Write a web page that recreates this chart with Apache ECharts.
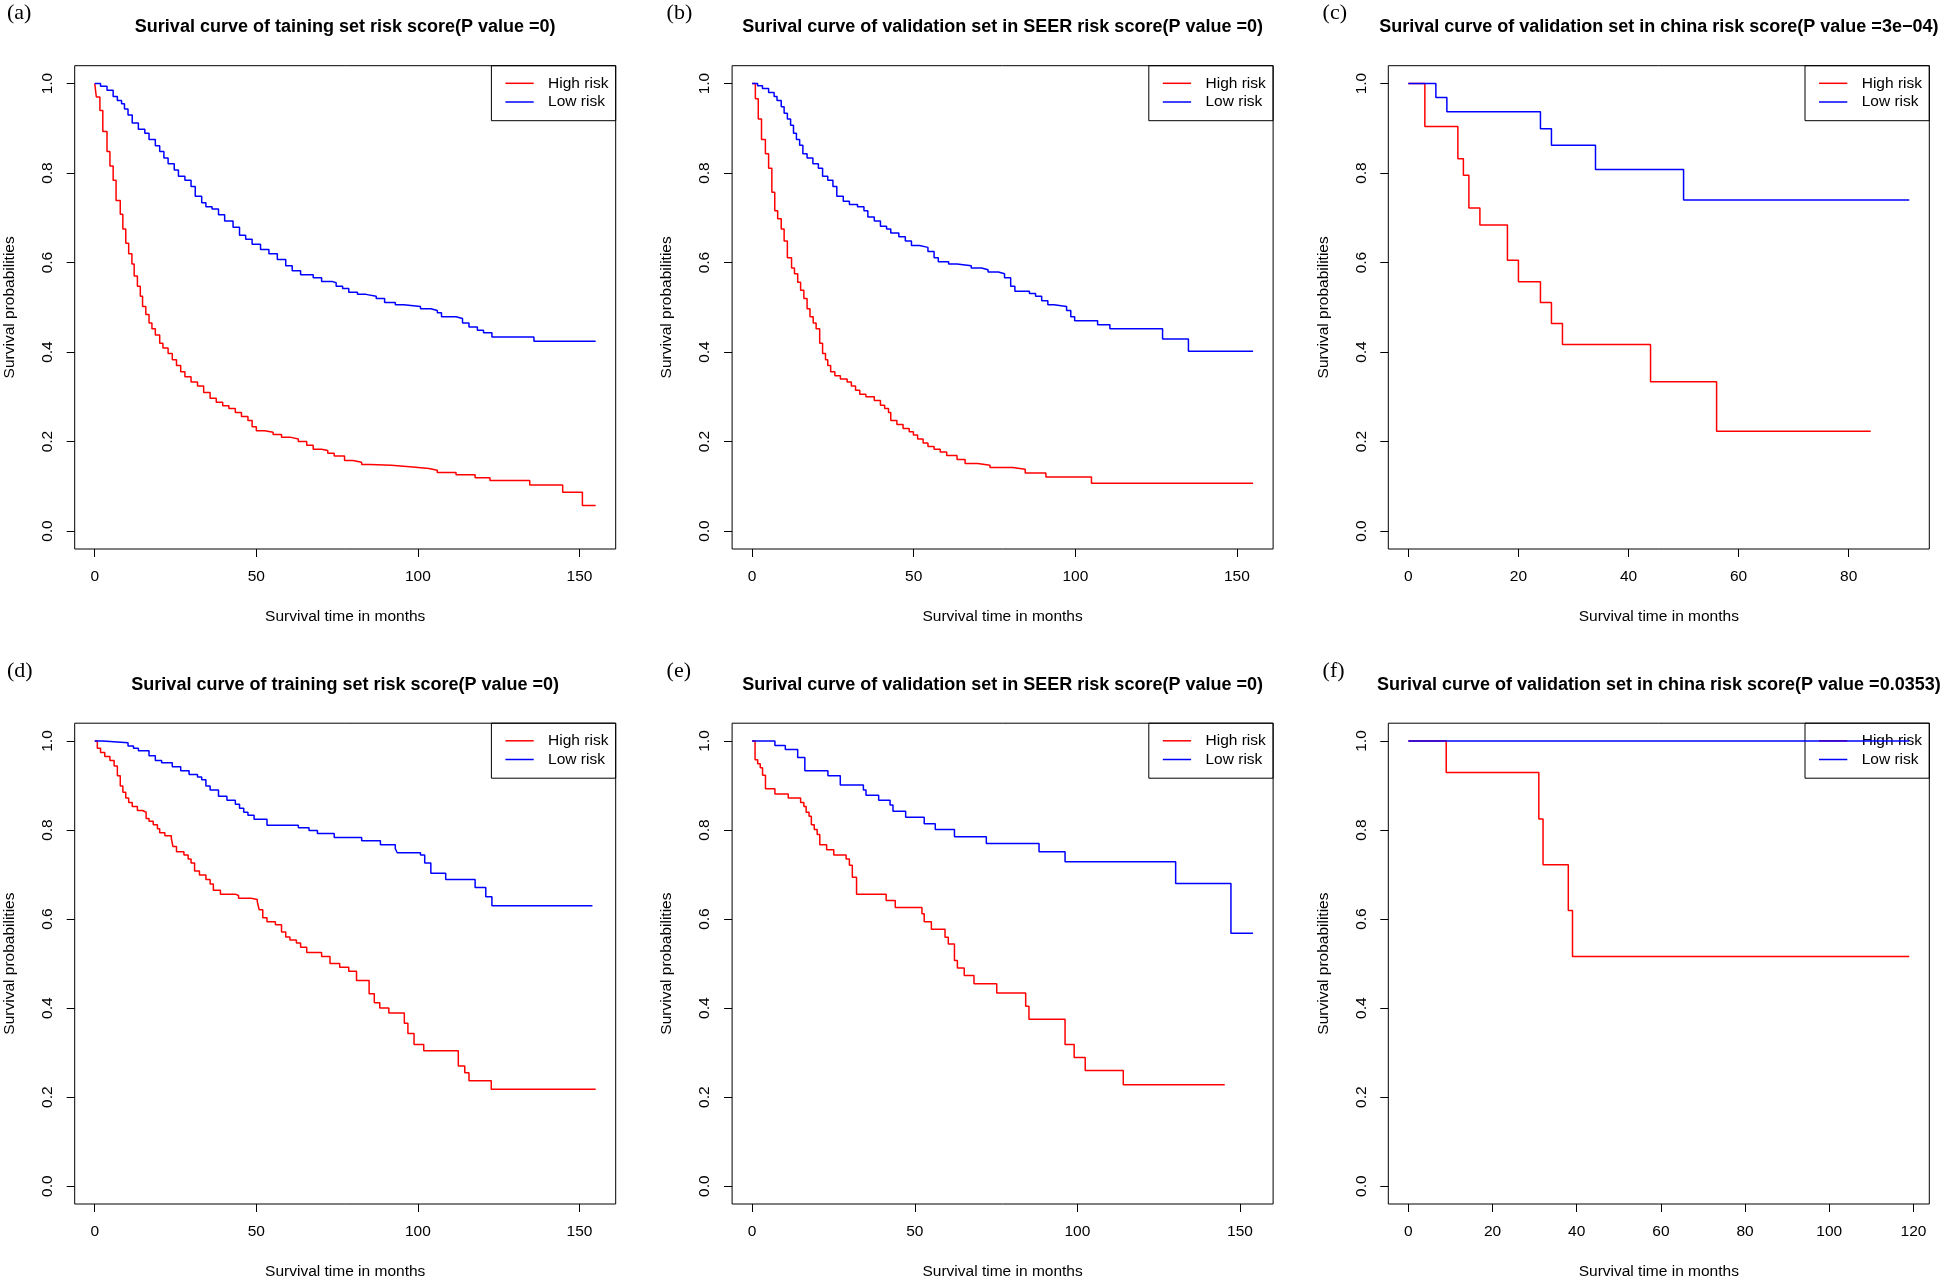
<!DOCTYPE html>
<html><head><meta charset="utf-8">
<script src="https://cdn.jsdelivr.net/npm/echarts@6/dist/echarts.min.js"></script>
<style>html,body{margin:0;padding:0;background:#fff}#c{width:1946px;height:1281px}</style>
</head><body><div id="c"></div>
<script>
// ---------- data ----------
const panelLabels = ['(a)', '(b)', '(c)', '(d)', '(e)', '(f)'];
const panelTitles = [
  'Surival curve of taining set risk score(P value =0)',
  'Surival curve of validation set in SEER risk score(P value =0)',
  'Surival curve of validation set in china risk score(P value =3e\u221204)',
  'Surival curve of training set risk score(P value =0)',
  'Surival curve of validation set in SEER risk score(P value =0)',
  'Surival curve of validation set in china risk score(P value =0.0353)'
];
const seriesNames = ['High risk', 'Low risk'];
const xAxisTitle = 'Survival time in months';
const yAxisTitle = 'Survival probabilities';
const xTicks150 = [0, 50, 100, 150];
const xTicks80 = [0, 20, 40, 60, 80];
const xTicks120 = [0, 20, 40, 60, 80, 100, 120];
const yTicks = [0, 0.2, 0.4, 0.6, 0.8, 1.0];
const xDataMax = [155, 155, 91, 155, 154, 119];

// (a) training set
const aHighT = [0,0.5,1.6,2.5,3.8,4.7,5.7,6.6,7.9,8.7,9.6,10.5,11.5,12.2,13.2,14.1,14.8,15.8,16.8,17.7,18.75,20.1,21.1,22.7,24.0,25.3,26.6,27.9,29.8,31.8,33.7,35.7,37.6,39.6,41.5,43.5,45.4,47.4,48.7,50,52.6,55.2,57.8,60.4,63,65.6,67.6,70.2,72.1,74.1,77.3,79.9,82.6,85.2,91.7,97.5,103.4,106,111.8,117.7,122.3,134.6,144.8,150.9,155];
const aHighS = [1,0.97,0.94,0.893,0.848,0.816,0.784,0.739,0.708,0.675,0.643,0.62,0.597,0.57,0.547,0.525,0.502,0.484,0.465,0.452,0.438,0.42,0.409,0.397,0.383,0.37,0.356,0.345,0.333,0.324,0.31,0.297,0.288,0.28,0.274,0.265,0.256,0.247,0.233,0.224,0.221,0.216,0.21,0.206,0.2,0.192,0.183,0.18,0.174,0.168,0.158,0.154,0.149,0.147,0.144,0.14,0.136,0.131,0.126,0.119,0.113,0.103,0.087,0.057,0.057];
const aLowT = [0,1.8,3.8,5.7,7.0,8.3,9.2,10.3,11.6,13.5,15.5,16.8,18.75,20.1,21.4,22.7,24.6,25.9,27.9,29.8,31.1,33.1,34.4,36.3,38.3,40.2,42.8,44.8,46.7,48.7,51.3,53.9,56.5,59.1,61.1,63.7,67.6,70.2,73.4,74.7,76.7,78.6,81.3,83.9,87.1,89.7,93.0,95.6,100.8,104.0,106.0,107.3,111.8,113.8,115.8,118.4,120.3,122.9,135.9,155];
const aLowS = [1,0.994,0.985,0.971,0.962,0.955,0.943,0.93,0.912,0.898,0.889,0.875,0.861,0.848,0.834,0.821,0.807,0.793,0.784,0.77,0.748,0.734,0.725,0.72,0.707,0.693,0.679,0.661,0.652,0.641,0.629,0.62,0.607,0.593,0.582,0.573,0.566,0.558,0.555,0.547,0.542,0.534,0.529,0.525,0.52,0.511,0.506,0.502,0.497,0.493,0.488,0.479,0.475,0.465,0.456,0.449,0.443,0.434,0.424,0.424];

// (b) validation SEER
const bHighT = [0,1.0,1.9,2.9,4.1,5.1,6.1,7.0,7.9,9.0,9.9,10.9,12.2,13.1,14.1,15.0,16.0,17.0,17.9,18.9,19.8,20.9,21.8,22.7,23.4,24.3,25.6,27.3,29.4,30.7,32.0,33.3,35.2,37.8,39.7,41.0,42.2,42.9,44.8,46.7,48.6,49.9,51.2,52.9,54.4,56.3,58.2,60.2,63.4,65.9,69.8,73.6,80.6,84.5,90.9,105.0,155];
const bHighS = [1,0.966,0.921,0.875,0.843,0.811,0.757,0.716,0.698,0.675,0.648,0.611,0.588,0.575,0.556,0.538,0.52,0.497,0.479,0.465,0.452,0.42,0.397,0.383,0.37,0.356,0.347,0.34,0.333,0.324,0.315,0.306,0.3,0.292,0.281,0.274,0.265,0.247,0.238,0.229,0.222,0.215,0.206,0.197,0.189,0.183,0.177,0.169,0.16,0.151,0.147,0.142,0.138,0.13,0.121,0.107,0.107];
const bLowT = [0,1.7,3.2,5.1,6.8,7.7,9.0,9.9,10.9,11.9,12.8,13.7,14.7,15.7,17.0,18.8,20.5,21.8,23.4,25.0,26.2,28.2,30.1,32.6,34.6,35.8,37.8,39.7,41.6,42.9,45.4,47.4,49.3,51.8,54.4,56.3,57.6,60.8,63.4,67.8,71.0,73.0,76.2,78.1,80.0,81.3,85.8,87.7,89.6,91.5,93.4,97.3,98.6,99.8,106.9,110.7,127.0,135.0,155];
const bLowS = [1,0.995,0.989,0.98,0.971,0.962,0.948,0.934,0.921,0.907,0.889,0.875,0.862,0.843,0.834,0.821,0.811,0.793,0.784,0.77,0.748,0.737,0.73,0.725,0.716,0.702,0.693,0.681,0.675,0.666,0.658,0.648,0.638,0.634,0.625,0.611,0.602,0.597,0.593,0.588,0.584,0.579,0.575,0.566,0.547,0.536,0.531,0.525,0.515,0.506,0.502,0.493,0.479,0.47,0.461,0.452,0.429,0.402,0.402];

// (c) validation China
const cHighT = [0,3,9,10,11,13,18,20,24,26,28,44,56,84];
const cHighS = [1,0.904,0.832,0.795,0.722,0.684,0.605,0.557,0.511,0.464,0.417,0.334,0.223,0.223];
const cLowT = [0,5,7,24,26,34,50,91];
const cLowS = [1,0.969,0.937,0.899,0.862,0.808,0.74,0.74];

// (d) training set
const dHighT = [0,0.8,1.8,3.1,4.7,6.0,7.0,7.9,8.7,9.6,10.5,11.6,13.2,14.8,15.9,16.8,18.1,19.4,20.1,21.7,23.7,24.2,25.3,27.6,28.9,29.8,30.9,32.4,34.4,35.7,36.7,38.9,43.5,44.5,48.4,50.3,50.9,52.0,53.3,55.9,57.8,59.1,60.4,62.4,63.7,65.6,70.2,72.8,75.8,78.6,81.0,84.9,86.5,88.2,91.0,95.8,96.9,98.8,101.8,112.5,114.5,115.8,122.7,155];
const dHighS = [1,0.984,0.974,0.965,0.956,0.944,0.922,0.899,0.885,0.872,0.862,0.853,0.844,0.84,0.826,0.82,0.812,0.803,0.794,0.787,0.781,0.763,0.751,0.744,0.735,0.726,0.708,0.699,0.689,0.679,0.665,0.656,0.653,0.647,0.644,0.639,0.621,0.603,0.594,0.587,0.571,0.56,0.553,0.546,0.537,0.525,0.516,0.5,0.492,0.483,0.462,0.432,0.412,0.4,0.389,0.366,0.343,0.318,0.304,0.27,0.255,0.237,0.218,0.218];
const dLowT = [0,2.5,10.3,12.0,13.5,16.8,18.75,20.7,24.0,26.6,29.2,31.8,33.1,34.4,35.7,38.3,40.9,43.5,44.8,46.1,47.4,49.3,53.3,63.0,66.3,68.9,74.1,82.6,88.4,93.0,93.6,100.8,102.1,104.0,108.6,117.7,121.0,122.9,154];
const dLowS = [1,0.996,0.989,0.984,0.978,0.967,0.956,0.951,0.942,0.933,0.925,0.919,0.913,0.899,0.89,0.876,0.867,0.858,0.849,0.84,0.833,0.824,0.811,0.805,0.799,0.792,0.783,0.776,0.767,0.758,0.749,0.744,0.726,0.703,0.689,0.671,0.65,0.63,0.63];

// (e) validation SEER
const eHighT = [0,0.9,1.7,2.5,3.2,4.1,7.0,11.1,14.9,15.9,16.6,17.5,18.2,19.1,20.0,20.8,22.9,25.1,28.9,29.9,30.8,32.1,41.2,44.0,52.2,52.9,55.1,59.3,60.3,62.2,63.1,65.2,68.2,75.2,84.1,85.1,96.2,99.0,102.4,114.1,145.3];
const eHighS = [1,0.958,0.949,0.94,0.923,0.893,0.881,0.872,0.862,0.853,0.84,0.831,0.812,0.801,0.79,0.767,0.756,0.744,0.735,0.721,0.694,0.656,0.642,0.626,0.612,0.594,0.577,0.559,0.544,0.507,0.49,0.473,0.455,0.434,0.404,0.375,0.318,0.289,0.26,0.228,0.228];
const eLowT = [0,7.0,10.2,14.0,16.2,23.3,27.1,34.2,35.0,38.9,42.4,43.3,47.2,52.9,56.3,62.2,72.0,88.2,96.2,130.2,147.2,154];
const eLowS = [1,0.99,0.981,0.963,0.933,0.922,0.901,0.89,0.878,0.867,0.856,0.842,0.829,0.814,0.801,0.785,0.77,0.751,0.729,0.68,0.568,0.568];

// (f) validation China
const fHighT = [0,9,31,32,38,39,119];
const fHighS = [1,0.929,0.825,0.722,0.619,0.516,0.516];
const fLowT = [0,119];
const fLowS = [1,1];

// ---------- layout / style ----------
const FONT = "'Liberation Sans', Arial, Helvetica, sans-serif";
const SERIF = "'Liberation Serif', 'Times New Roman', serif";
const COL_LEFT = [74.7, 732.1, 1388.3];
const LABEL_X = [7, 666.6, 1322.6];
const ROW_TOP = [65.7, 723.2];
const BOX_W = 541, BOX_H = 483.3;
const RED = '#FF0000', BLUE = '#0000FF';

const highT = [aHighT, bHighT, cHighT, dHighT, eHighT, fHighT];
const highS = [aHighS, bHighS, cHighS, dHighS, eHighS, fHighS];
const lowT = [aLowT, bLowT, cLowT, dLowT, eLowT, fLowT];
const lowS = [aLowS, bLowS, cLowS, dLowS, eLowS, fLowS];
const xTicksAll = [xTicks150, xTicks150, xTicks80, xTicks150, xTicks150, xTicks120];

const zip = (t, s) => t.map((v, k) => [v, s[k]]);

const grids = [], xAxes = [], yAxes = [], series = [], graphics = [];
const txt = { color: '#000', fontFamily: FONT, fontSize: 15.5 };

for (let i = 0; i < 6; i++) {
  const col = i % 3, row = Math.floor(i / 3);
  const left = COL_LEFT[col], top = ROW_TOP[row];
  grids.push({ left, top, width: BOX_W, height: BOX_H, show: true, borderColor: '#000', borderWidth: 1, backgroundColor: 'transparent' });
  const xm = xDataMax[i];
  xAxes.push({
    gridIndex: i, type: 'value', position: 'bottom', min: -0.04 * xm, max: 1.04 * xm,
    axisLine: { show: false, onZero: false }, splitLine: { show: false },
    axisTick: { show: true, inside: false, length: 8, customValues: xTicksAll[i], lineStyle: { color: '#000', width: 1 } },
    axisLabel: Object.assign({ customValues: xTicksAll[i], margin: 20, formatter: v => String(v) }, txt),
    name: xAxisTitle, nameLocation: 'middle', nameGap: 60, nameTextStyle: Object.assign({}, txt)
  });
  yAxes.push({
    gridIndex: i, type: 'value', position: 'left', min: -0.04, max: 1.04,
    axisLine: { show: false, onZero: false }, splitLine: { show: false },
    axisTick: { show: true, inside: false, length: 8, customValues: yTicks, lineStyle: { color: '#000', width: 1 } },
    axisLabel: Object.assign({ customValues: yTicks, margin: 19, rotate: 90, formatter: v => v.toFixed(1) }, txt),
    name: yAxisTitle, nameLocation: 'middle', nameGap: 57, nameTextStyle: Object.assign({}, txt)
  });
  series.push({
    type: 'line', name: seriesNames[0], xAxisIndex: i, yAxisIndex: i, step: 'end',
    data: zip(highT[i], highS[i]), showSymbol: false, symbol: 'none',
    lineStyle: { color: RED, width: 1.5 }, itemStyle: { color: RED }, silent: true, z: 3
  });
  series.push({
    type: 'line', name: seriesNames[1], xAxisIndex: i, yAxisIndex: i, step: 'end',
    data: zip(lowT[i], lowS[i]), showSymbol: false, symbol: 'none',
    lineStyle: { color: BLUE, width: 1.5 }, itemStyle: { color: BLUE }, silent: true, z: 3
  });

  // title
  graphics.push({ type: 'text', x: left + BOX_W / 2, y: top - 38.5, z: 5,
    style: { text: panelTitles[i], fill: '#000', font: 'bold 18px ' + FONT, textAlign: 'center', textVerticalAlign: 'middle', align: 'center', verticalAlign: 'middle' } });
  // panel label
  graphics.push({ type: 'text', x: LABEL_X[col], y: top - 52.2, z: 5,
    style: { text: panelLabels[i], fill: '#000', font: '22px ' + SERIF, textAlign: 'left', textVerticalAlign: 'middle', align: 'left', verticalAlign: 'middle' } });
  // legend box
  const right = left + BOX_W;
  graphics.push({ type: 'rect', z: 1, shape: { x: right - 124.3, y: top, width: 124.3, height: 55 },
    style: { fill: 'none', stroke: '#000', lineWidth: 1 } });
  const rowsY = [top + 17.6, top + 36.3];
  const cols = [RED, BLUE];
  for (let k = 0; k < 2; k++) {
    graphics.push({ type: 'line', z: 1, shape: { x1: right - 110.3, y1: rowsY[k], x2: right - 82, y2: rowsY[k] },
      style: { stroke: cols[k], lineWidth: 1.5 } });
    graphics.push({ type: 'text', z: 1, x: right - 67.6, y: rowsY[k],
      style: { text: seriesNames[k], fill: '#000', font: '15.5px ' + FONT, textAlign: 'left', textVerticalAlign: 'middle', align: 'left', verticalAlign: 'middle' } });
  }
}

const chart = echarts.init(document.getElementById('c'), null, { renderer: 'canvas', width: 1946, height: 1281 });
chart.setOption({
  animation: false,
  backgroundColor: '#fff',
  grid: grids, xAxis: xAxes, yAxis: yAxes, series,
  graphic: { elements: graphics }
});
</script>
</body></html>
